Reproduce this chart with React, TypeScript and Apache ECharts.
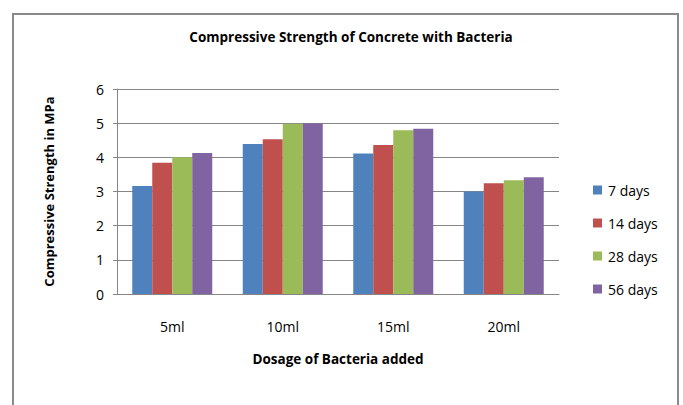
import React, { useEffect, useRef } from "react";
import * as echarts from "echarts";

const categories = ["5ml", "10ml", "15ml", "20ml"];
const seriesNames = ["7 days", "14 days", "28 days", "56 days"];
const days7 = [3.16, 4.39, 4.11, 3.0];
const days14 = [3.84, 4.53, 4.36, 3.24];
const days28 = [4.0, 4.98, 4.79, 3.33];
const days56 = [4.13, 5.0, 4.84, 3.42];
const yTicks = [0, 1, 2, 3, 4, 5, 6];
const colors = ["#4F81BD", "#C0504D", "#9BBB59", "#8064A2"];

const FONT = "'Open Sans', 'Noto Sans', sans-serif";

export default function App() {
  const ref = useRef<HTMLDivElement>(null);
  useEffect(() => {
    if (!ref.current) return;
    const chart = echarts.init(ref.current, null, { renderer: "svg" });
    const data = [days7, days14, days28, days56];
    chart.setOption({
      animation: false,
      backgroundColor: "#ffffff",
      textStyle: { fontFamily: FONT },
      graphic: [
        {
          type: "rect",
          shape: { x: 13, y: 14, width: 665, height: 420 },
          style: { fill: "none", stroke: "#8a8a8a", lineWidth: 2 },
          silent: true,
        },
      ],
      title: {
        text: "Compressive Strength of Concrete with Bacteria",
        left: 346,
        textAlign: "center",
        top: 25,
        textStyle: { fontFamily: FONT, fontSize: 13.5, fontWeight: "bold", color: "#000" },
      },
      legend: {
        orient: "vertical",
        left: 588,
        top: 178,
        itemWidth: 9,
        itemHeight: 9,
        itemGap: 19,
        icon: "rect",
        data: seriesNames,
        textStyle: { fontFamily: FONT, fontSize: 14, color: "#000", padding: [0, 0, 0, 1] },
      },
      grid: { left: 117, top: 89, width: 442, height: 205, containLabel: false },
      xAxis: {
        type: "category",
        data: categories,
        name: "Dosage of Bacteria added",
        nameLocation: "middle",
        nameGap: 58,
        nameTextStyle: { fontFamily: FONT, fontSize: 13.5, fontWeight: "bold", color: "#000" },
        axisLine: { lineStyle: { color: "#868686", width: 1 } },
        axisTick: { show: false },
        axisLabel: { fontFamily: FONT, fontSize: 14, color: "#000", margin: 25 },
      },
      yAxis: {
        type: "value",
        min: yTicks[0],
        max: yTicks[yTicks.length - 1],
        interval: 1,
        name: "Compressive Strength in MPa",
        nameLocation: "middle",
        nameGap: 62,
        nameTextStyle: { fontFamily: FONT, fontSize: 13, fontWeight: "bold", color: "#000" },
        axisLine: { show: true, lineStyle: { color: "#868686", width: 1 } },
        axisTick: { show: true, length: 4, lineStyle: { color: "#868686" } },
        axisLabel: { fontFamily: FONT, fontSize: 14, color: "#000", margin: 13 },
        splitLine: { lineStyle: { color: "#868686", width: 1 } },
      },
      series: seriesNames.map((name, i) => ({
        name,
        type: "bar",
        data: data[i],
        barGap: "0%",
        barCategoryGap: "27.6%",
        itemStyle: { color: colors[i] },
      })),
    });
    return () => chart.dispose();
  }, []);
  return (
    <div
      ref={ref}
      style={{ position: "fixed", left: 0, top: 0, width: 683, height: 405 }}
    />
  );
}
